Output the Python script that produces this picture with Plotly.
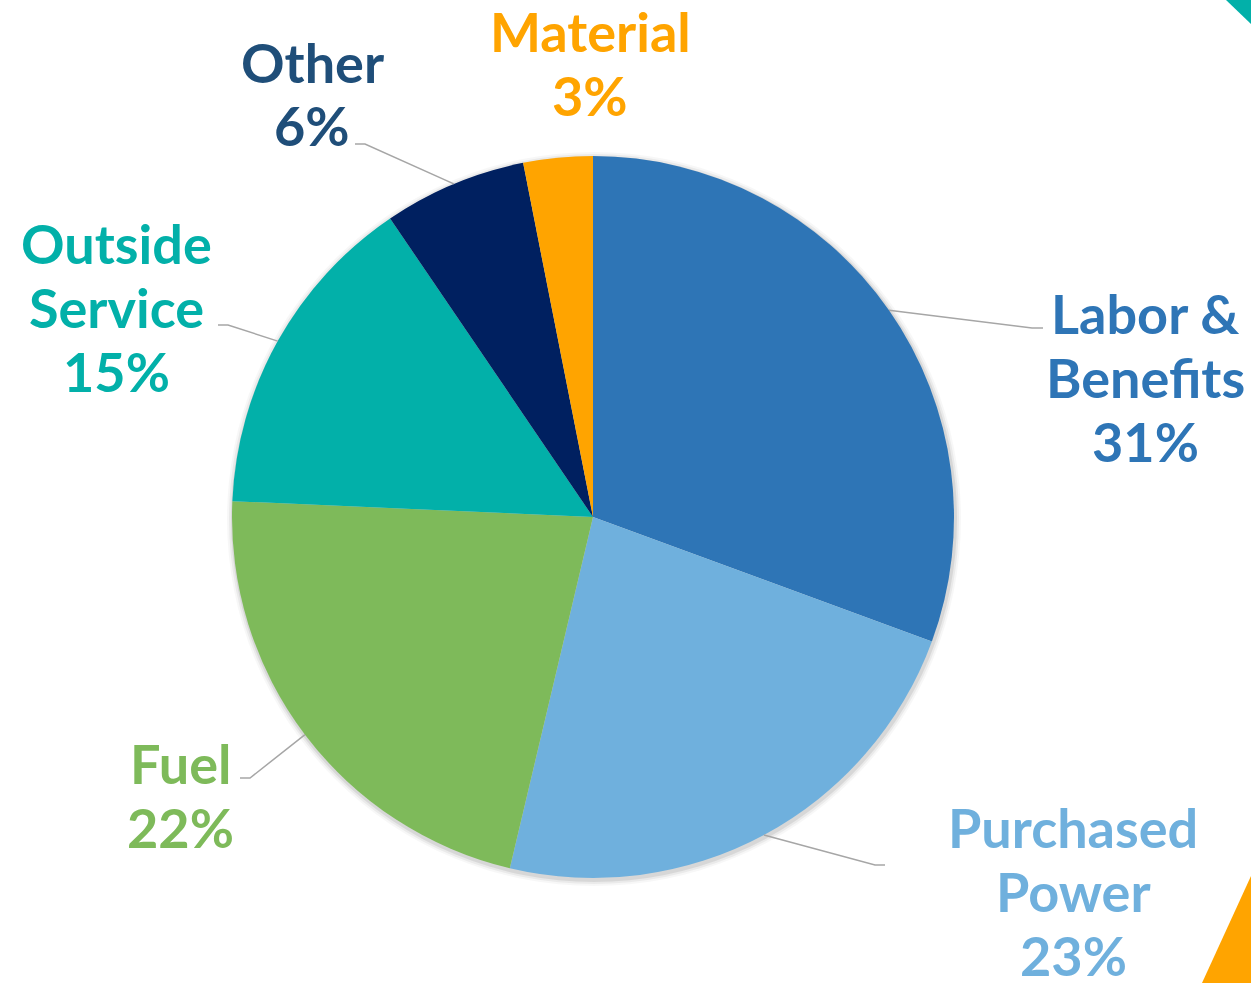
import math
import plotly.graph_objects as go

# data
categories = [['Labor &', 'Benefits'], ['Purchased', 'Power'], ['Fuel'], ['Outside', 'Service'], ['Other'], ['Material']]
values = [30.6, 23.1, 22.0, 14.8, 6.4, 3.1]
slice_colors = ['#2E75B6', '#6FB0DD', '#7EBA5A', '#02B0A9', '#002060', '#FFA400']
text_colors = ['#2E75B6', '#6FB0DD', '#7EBA5A', '#02B0A9', '#1F4E79', '#FFA400']

W, H = 1251, 983
cx, cy, r = 593, 517, 361

# first text line centre of each label and leader-line elbows (pixels)
label_pos = [(1145, 313), (1073, 827), (180, 763), (116, 243), (312, 62), (590, 31)]
elbows = [(1032, 328, 1043), (875, 865, 885), (250, 778, 240), (228, 325, 218), (365, 144, 355), None]
line_gap = 64

fig = go.Figure(go.Pie(
    labels=[' '.join(c) for c in categories], values=values, sort=False,
    direction='clockwise', rotation=0,
    marker=dict(colors=slice_colors, line=dict(width=0)),
    textinfo='none', hoverinfo='label+percent',
    domain=dict(x=[(cx - r) / W, (cx + r) / W], y=[1 - (cy + r) / H, 1 - (cy - r) / H]),
    showlegend=False))

# soft shadow round the pie
for k, op in [(6, 0.03), (4, 0.05), (2, 0.08)]:
    fig.add_shape(type='circle', xref='paper', yref='paper', layer='below',
                  x0=(cx - r - k + 1) / W, x1=(cx + r + k + 1) / W,
                  y0=1 - (cy + r + k + 2) / H, y1=1 - (cy - r - k + 2) / H,
                  fillcolor='black', opacity=op, line=dict(width=0))

font_family = 'Lato, Open Sans, sans-serif'
total = sum(values)
cum = 0
for i, v in enumerate(values):
    mid = (cum + v / 2) / total * 2 * math.pi
    cum += v
    lx, ly = label_pos[i]
    lines = categories[i] + [f'{round(v)}%']
    for j, t in enumerate(lines):
        fig.add_annotation(x=lx / W, y=1 - (ly + j * line_gap) / H, xref='paper', yref='paper',
                           text=f'<b>{t}</b>', showarrow=False,
                           font=dict(family=font_family, size=54, color=text_colors[i]),
                           xanchor='center', yanchor='middle')
    if elbows[i] is not None:
        ex, ey, hx = elbows[i]
        sx = cx + r * math.sin(mid)
        sy = cy - r * math.cos(mid)
        fig.add_shape(type='path', xref='paper', yref='paper',
                      path=f'M {sx / W},{1 - sy / H} L {ex / W},{1 - ey / H} L {hx / W},{1 - ey / H}',
                      line=dict(color='#A6A6A6', width=1.5))

# corner decorations
fig.add_shape(type='path', xref='paper', yref='paper',
              path=f'M {1226 / W},1 L 1,1 L 1,{1 - 24 / H} Z',
              fillcolor='#02B0A9', line=dict(width=0))
fig.add_shape(type='path', xref='paper', yref='paper',
              path=f'M 1,{1 - 876 / H} L 1,0 L {1202 / W},0 Z',
              fillcolor='#FFA400', line=dict(width=0))

fig.update_layout(width=W, height=H, margin=dict(l=0, r=0, t=0, b=0),
                  paper_bgcolor='white', plot_bgcolor='white')

fig.write_html('out.html', config={'displayModeBar': False},
               post_script="document.body.style.margin='0';")
